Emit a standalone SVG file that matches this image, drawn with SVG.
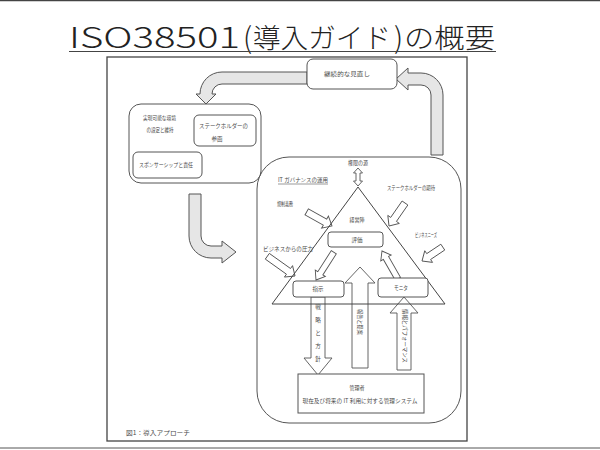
<svg xmlns="http://www.w3.org/2000/svg" width="600" height="450" viewBox="0 0 600 450">
<style>
.t{font-family:"Noto Sans CJK JP","Noto Sans",sans-serif;fill:#4a4a4a;font-size:5.6px;text-anchor:middle}
.tl{text-anchor:start}
.ti{font-family:"Noto Sans CJK JP","Noto Sans",sans-serif;font-weight:300;font-size:29px;fill:#222}
.box{fill:#fff;stroke:#555;stroke-width:1}
.ga{fill:#e6e6e6;stroke:#555;stroke-width:1}
.wa{fill:#fff;stroke:#555;stroke-width:0.9}
</style>
<rect width="600" height="450" fill="#fff"/>
<line x1="0" y1="0.5" x2="600" y2="0.5" stroke="#444" stroke-width="1.5"/>
<line x1="0" y1="448" x2="600" y2="448" stroke="#555" stroke-width="1"/>
<g id="title">
<text class="ti" y="48"><tspan x="69" textLength="171" lengthAdjust="spacingAndGlyphs">ISO38501</tspan><tspan x="243">(</tspan><tspan x="253" font-size="27.6">導入ガイド</tspan><tspan x="394">)</tspan><tspan x="404" font-size="27.6" textLength="91" lengthAdjust="spacingAndGlyphs">の概要</tspan></text>
<line x1="69" y1="51.5" x2="496" y2="51.5" stroke="#444" stroke-width="1.2"/>
</g>
<rect id="frame" x="107" y="57" width="360" height="384" fill="none" stroke="#444" stroke-width="1.3"/>
<g id="connectors">
<path class="ga" d="M431,155 L431,95 A10 10 0 0 0 421,85 L408,85 L408,90 L396,79 L408,68 L408,73 L421,73 A22 22 0 0 1 443,95 L443,155 Z"/>
<path class="ga" d="M307,72 L222,72 A22 22 0 0 0 200,94 L196,94 L206,104 L216,94 L212,94 A10 10 0 0 1 222,84 L307,84 Z"/>
<path class="ga" d="M189,194 L201,194 L201,236 A10 10 0 0 0 211,246 L222,246 L222,241 L236,252 L222,263 L222,258 L211,258 A22 22 0 0 1 189,236 Z"/>
<path class="wa" d="M358,168 L362.5,173 L360,173 L360,181 L362.5,181 L358,186 L353.5,181 L356,181 L356,173 L353.5,173 Z"/>
<path class="wa" transform="translate(332,226) rotate(29.2)" d="M-29,-3.5 L-8,-3.5 L-8,-7 L0,0 L-8,7 L-8,3.5 L-29,3.5 Z"/>
<path class="wa" transform="translate(389,226) rotate(124.8)" d="M-28,-3.5 L-8,-3.5 L-8,-7 L0,0 L-8,7 L-8,3.5 L-28,3.5 Z"/>
<path class="wa" transform="translate(422,261) rotate(146.3)" d="M-25,-3.5 L-8,-3.5 L-8,-7 L0,0 L-8,7 L-8,3.5 L-25,3.5 Z"/>
<path class="wa" transform="translate(295,276) rotate(35.5)" d="M-34,-3.5 L-8,-3.5 L-8,-7 L0,0 L-8,7 L-8,3.5 L-34,3.5 Z"/>
<path class="wa" transform="translate(316,280) rotate(122.7)" d="M-33,-3 L-8,-3 L-8,-6 L0,0 L-8,6 L-8,3 L-33,3 Z"/>
<path class="wa" transform="translate(382,251) rotate(240.3)" d="M-32,-3 L-8,-3 L-8,-6 L0,0 L-8,6 L-8,3 L-32,3 Z"/>
<path class="wa" d="M360,267 L375,283 L368,283 L368,368 L352,368 L352,283 L345,283 Z"/>
<path class="wa" d="M311,297 L325,297 L325,358 L332,358 L318,375 L304,358 L311,358 Z"/>
<path class="wa" d="M404,297 L418,313 L411,313 L411,370 L397,370 L397,313 L390,313 Z"/>
</g>
<g id="review">
<rect class="box" x="307" y="59" width="90" height="30" rx="6"/>
<text class="t" x="347" y="76" textLength="46" lengthAdjust="spacingAndGlyphs">継続的な見直し</text>
</g>
<g id="env">
<rect class="box" x="129" y="104" width="132" height="79" rx="12"/>
<text class="t" x="159.5" y="120" textLength="33" lengthAdjust="spacingAndGlyphs">実現可能な環境</text>
<text class="t" x="160" y="132" textLength="27" lengthAdjust="spacingAndGlyphs">の設定と維持</text>
</g>
<g id="stakeholder">
<rect class="box" x="194" y="115" width="62" height="31" rx="5"/>
<text class="t" x="223.5" y="128" textLength="49" lengthAdjust="spacingAndGlyphs">ステークホルダーの</text>
<text class="t" x="217" y="141" textLength="11" lengthAdjust="spacingAndGlyphs">参画</text>
</g>
<g id="sponsor">
<rect class="box" x="133" y="152" width="69" height="26" rx="5"/>
<text class="t" x="166" y="167" textLength="54" lengthAdjust="spacingAndGlyphs">スポンサーシップと責任</text>
</g>
<g id="itgov">
<rect x="257" y="157" width="204" height="266" rx="32" fill="none" stroke="#555" stroke-width="1"/>
<text class="t tl" x="278" y="182" textLength="50" lengthAdjust="spacingAndGlyphs">IT ガバナンスの運用</text>
<line x1="278" y1="184" x2="328" y2="184" stroke="#555" stroke-width="0.6"/>
<text class="t" x="358" y="165" textLength="20" lengthAdjust="spacingAndGlyphs">権限の源</text>
<text class="t" x="285" y="206" textLength="16" lengthAdjust="spacingAndGlyphs">規制義務</text>
<text class="t" x="411" y="190" textLength="48" lengthAdjust="spacingAndGlyphs">ステークホルダーの期待</text>
<text class="t" x="426" y="237" textLength="22" lengthAdjust="spacingAndGlyphs">ビジネスニーズ</text>
<text class="t" x="288" y="251" textLength="50" lengthAdjust="spacingAndGlyphs">ビジネスからの圧力</text>
</g>
<g id="board">
<polygon points="358,187 272,304 445,304" fill="none" stroke="#444" stroke-width="1"/>
<text class="t" x="357" y="222" textLength="15" lengthAdjust="spacingAndGlyphs">経営陣</text>
</g>
<g id="evaluate">
<rect class="box" x="328" y="232" width="55" height="15" rx="3"/>
<text class="t" x="357" y="241.5" textLength="11" lengthAdjust="spacingAndGlyphs">評価</text>
</g>
<g id="direct">
<rect class="box" x="293" y="281" width="51" height="16" rx="3"/>
<text class="t" x="318" y="291" textLength="11" lengthAdjust="spacingAndGlyphs">指示</text>
</g>
<g id="monitor">
<rect class="box" x="378" y="278" width="50" height="19" rx="3"/>
<text class="t" x="401" y="290" textLength="14" lengthAdjust="spacingAndGlyphs">モニタ</text>
</g>
<g id="labels">
<text class="t" x="318" y="309">戦</text>
<text class="t" x="318" y="322">略</text>
<text class="t" x="318" y="335">と</text>
<text class="t" x="318" y="348">方</text>
<text class="t" x="318" y="361">針</text>
<text class="t" x="360" y="322" transform="rotate(90 360 322)" dy="2" textLength="26" lengthAdjust="spacingAndGlyphs">報告と提案</text>
<text class="t" x="405" y="336" transform="rotate(90 405 336)" dy="2" textLength="54" lengthAdjust="spacingAndGlyphs">情報とパフォーマンス</text>
</g>
<g id="manager">
<rect class="box" x="298" y="374" width="126" height="39" rx="0"/>
<text class="t" x="357" y="390" textLength="15" lengthAdjust="spacingAndGlyphs">管理者</text>
<text class="t" x="360" y="403" textLength="115" lengthAdjust="spacingAndGlyphs">現在及び将来の IT 利用に対する管理システム</text>
</g>
<text class="t tl" x="126" y="435" font-size="6.5" textLength="64" lengthAdjust="spacingAndGlyphs">図1：導入アプローチ</text>
</svg>
